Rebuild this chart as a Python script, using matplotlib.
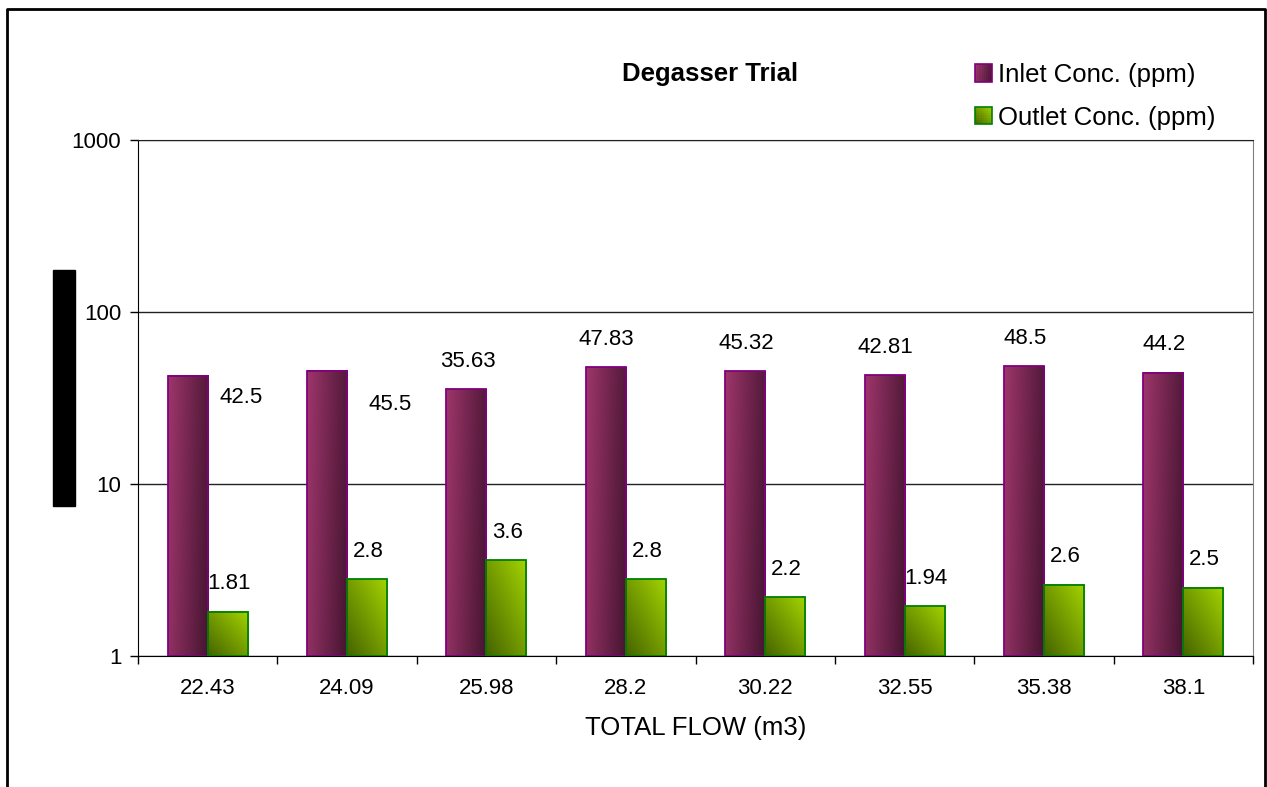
import numpy as np
import matplotlib
matplotlib.use("Agg")
import matplotlib.pyplot as plt
from matplotlib.image import BboxImage
from matplotlib.transforms import Bbox, TransformedBbox
from matplotlib.patches import Rectangle
from matplotlib.legend_handler import HandlerBase
from matplotlib.lines import Line2D
from matplotlib.ticker import NullLocator, FixedLocator

plt.rcParams["font.family"] = ["Liberation Sans", "DejaVu Sans"]

# total flow per trial (m3) and measured concentrations (ppm)
flow = ["22.43", "24.09", "25.98", "28.2", "30.22", "32.55", "35.38", "38.1"]
inlet = [42.5, 45.5, 35.63, 47.83, 45.32, 42.81, 48.5, 44.2]
outlet = [1.81, 2.8, 3.6, 2.8, 2.2, 1.94, 2.6, 2.5]

INLET_LIGHT = np.array([0.62, 0.21, 0.42])
INLET_DARK = np.array([0.27, 0.08, 0.19])
INLET_EDGE = "#800080"
OUTLET_LIGHT = np.array([0.64, 0.83, 0.0])
OUTLET_DARK = np.array([0.27, 0.39, 0.0])
OUTLET_EDGE = "#008000"


def shade(u, v, kind):
    # u: 0 left -> 1 right, v: 0 bottom -> 1 top; returns 0 (light) .. 1 (dark)
    if kind == "inlet":
        return 0.85 * u + 0.15 * (1 - v)
    return 0.5 * (1 - u) + 0.5 * (1 - v)


def gradient(light, dark, kind, n=64):
    u = np.linspace(0, 1, n)[None, :]
    v = np.linspace(1, 0, n)[:, None]
    t = shade(u, v, kind)
    return light * (1 - t)[..., None] + dark * t[..., None]


class GradientHandler(HandlerBase):
    def __init__(self, light, dark, kind, edge):
        super().__init__()
        self.light, self.dark, self.kind, self.edge = light, dark, kind, edge

    def create_artists(self, legend, orig_handle, xdescent, ydescent,
                       width, height, fontsize, trans):
        n = 8
        arts = []
        for i in range(n):
            for j in range(n):
                t = shade((i + 0.5) / n, (j + 0.5) / n, self.kind)
                c = self.light * (1 - t) + self.dark * t
                arts.append(Rectangle((-xdescent + i * width / n, -ydescent + j * height / n),
                                      width / n, height / n, facecolor=c,
                                      edgecolor="none", transform=trans))
        arts.append(Rectangle((-xdescent, -ydescent), width, height, facecolor="none",
                              edgecolor=self.edge, lw=1.2, transform=trans))
        return arts


W, H = 1267, 787
fig = plt.figure(figsize=(W / 100, H / 100), dpi=100)
ax = fig.add_axes([138 / W, 1 - 656 / H, (1253 - 138) / W, (656 - 140) / H])

ax.set_yscale("log")
ax.set_ylim(1, 1000)
ax.set_xlim(-0.5, len(flow) - 0.5)

x = np.arange(len(flow))
bw = 0.287

series = [
    (x - bw / 2, inlet, INLET_LIGHT, INLET_DARK, "inlet", INLET_EDGE),
    (x + bw / 2, outlet, OUTLET_LIGHT, OUTLET_DARK, "outlet", OUTLET_EDGE),
]
for xs, vals, light, dark, kind, edge in series:
    ax.bar(xs, np.array(vals) - 1, bottom=1, width=bw, facecolor="none",
           edgecolor=edge, lw=1.3, zorder=3)
    img = gradient(light, dark, kind)
    for xc, v in zip(xs, vals):
        bb = TransformedBbox(Bbox([[xc - bw / 2, 1], [xc + bw / 2, v]]), ax.transData)
        bi = BboxImage(bb, interpolation="bilinear", zorder=2)
        bi.set_data(img)
        ax.add_artist(bi)

# value labels; the first two inlet labels sit beside their bars
inlet_offsets = [(53, -22), (63, -34)] + [(1, 28)] * (len(inlet) - 2)
for xc, v, off in zip(x - bw / 2, inlet, inlet_offsets):
    ax.annotate(f"{v:g}", xy=(xc, v), xytext=off, textcoords="offset pixels",
                ha="center", va="center", fontsize=16, zorder=4)
for xc, v in zip(x + bw / 2, outlet):
    ax.annotate(f"{v:g}", xy=(xc, v), xytext=(1, 28), textcoords="offset pixels",
                ha="center", va="center", fontsize=16, zorder=4)

# axes styling
ax.yaxis.set_major_locator(FixedLocator([1, 10, 100, 1000]))
ax.yaxis.set_minor_locator(NullLocator())
ax.set_yticklabels(["1", "10", "100", "1000"])
ax.tick_params(axis="y", which="major", length=6, width=1, pad=6, labelsize=16)
ax.yaxis.grid(True, color="#222222", lw=1)
ax.set_axisbelow(True)

ax.xaxis.set_major_locator(FixedLocator(np.arange(-0.5, len(flow), 1)))
ax.xaxis.set_minor_locator(FixedLocator(x))
ax.set_xticklabels([], minor=False)
ax.set_xticklabels(flow, minor=True)
ax.tick_params(axis="x", which="major", length=6, width=1, direction="out")
ax.tick_params(axis="x", which="minor", length=0, pad=16, labelsize=16)
ax.set_xlabel("TOTAL FLOW (m3)", fontsize=18.5, labelpad=12)

for s in ["left", "bottom"]:
    ax.spines[s].set_color("black")
ax.spines["top"].set_color("#222222")
ax.spines["right"].set_color("#808080")

fig.text(710 / W, 1 - 74 / H, "Degasser Trial", ha="center", va="center",
         fontsize=18.5, fontweight="bold")

h_in = Rectangle((0, 0), 1, 1)
h_out = Rectangle((0, 0), 1, 1)
fig.legend([h_in, h_out], ["Inlet Conc. (ppm)", "Outlet Conc. (ppm)"],
           handler_map={h_in: GradientHandler(INLET_LIGHT, INLET_DARK, "inlet", INLET_EDGE),
                        h_out: GradientHandler(OUTLET_LIGHT, OUTLET_DARK, "outlet", OUTLET_EDGE)},
           loc="upper left", bbox_to_anchor=(975 / W, 1 - 63 / H), frameon=False,
           borderpad=0, borderaxespad=0, handlelength=0.68, handleheight=0.68,
           handletextpad=0.2, labelspacing=0.72, fontsize=18.5)

# chart frame and the masked block at the left
fig.add_artist(Rectangle((53 / W, 1 - 506 / H), 22 / W, 236 / H,
                         transform=fig.transFigure, color="black"))
fig.add_artist(Line2D([7 / W, 7 / W, 1265 / W, 1265 / W], [0, 1 - 9 / H, 1 - 9 / H, 0],
                      transform=fig.transFigure, color="black", lw=2))

fig.savefig("out.png", dpi=100)
